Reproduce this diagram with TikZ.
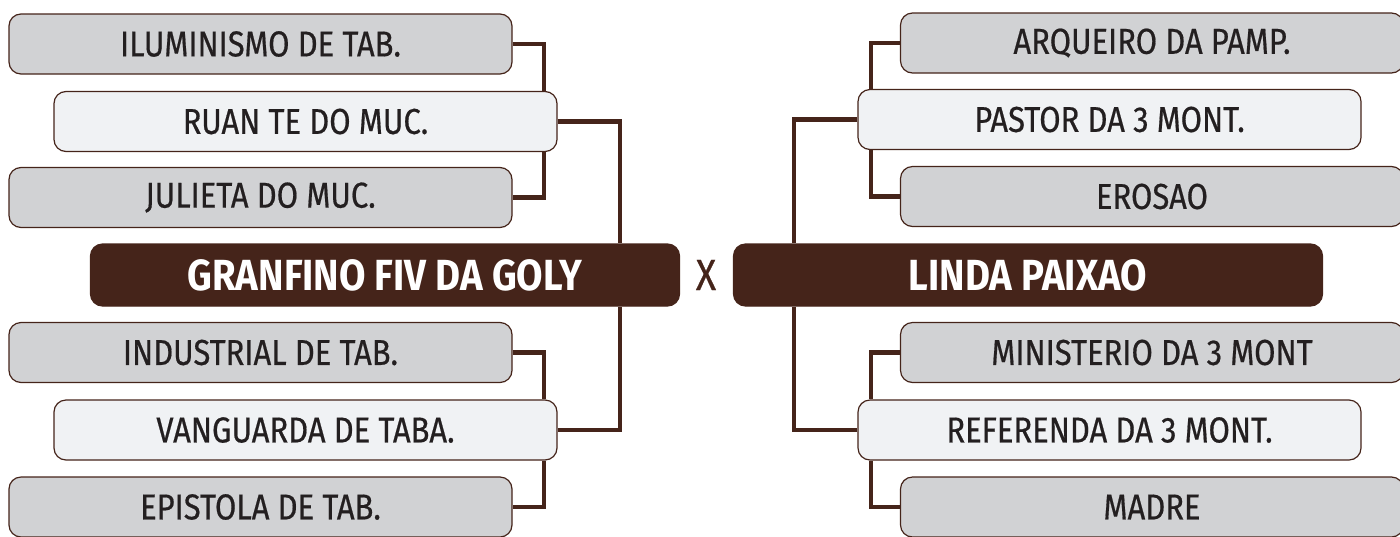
\documentclass[tikz,border=0pt]{standalone}
\usepackage{fontspec}
\setmainfont{Fira Sans}[FakeStretch=0.88]
\newfontfamily\teamfont{Fira Sans}[FakeStretch=0.86,FakeBold=0.5]
\definecolor{cafe}{HTML}{45241A}
\definecolor{cinza}{HTML}{D1D2D4}
\definecolor{gelo}{HTML}{F0F2F4}
\definecolor{tinta}{HTML}{231F20}
\begin{document}
\begin{tikzpicture}[x=0.5pt,y=-0.5pt,font=\teamfont\fontsize{18}{20}\selectfont]
    \tikzstyle{team}=[rectangle,rounded corners=6pt,draw=cafe,line width=0.6pt,minimum width=251.5pt,minimum height=30pt,inner sep=0pt,text=tinta]
    \tikzstyle{outer}=[team,fill=cinza]
    \tikzstyle{inner}=[team,fill=gelo]
    \tikzstyle{final}=[team,fill=cafe,text=white,font=\rmfamily\fontsize{21.8}{24}\selectfont\bfseries,minimum width=294.5pt,minimum height=31pt]
    \tikzstyle{link}=[draw=cafe,line width=2.3pt]

    \useasboundingbox (0,0) rectangle (1400,536);

    % left bracket
    \node(ilu)[outer] at (260.5,44){ILUMINISMO DE TAB.};
    \node(ruan)[inner] at (305.5,121.5){RUAN TE DO MUC.};
    \node(jul)[outer] at (260.5,197.5){JULIETA DO MUC.};
    \node(gran)[final] at (385,275){GRANFINO FIV DA GOLY};
    \node(ind)[outer] at (260.5,352.5){INDUSTRIAL DE TAB.};
    \node(van)[inner] at (305.5,430){VANGUARDA DE TABA.};
    \node(epi)[outer] at (260.5,507){EPISTOLA DE TAB.};

    \node(vs)[text=cafe,font=\teamfont\fontsize{21.8}{24}\selectfont] at (706,275){X};

    % right bracket
    \node(arq)[outer] at (1152,43){ARQUEIRO DA PAMP.};
    \node(pas)[inner] at (1109.5,119.5){PASTOR DA 3 MONT.};
    \node(ero)[outer] at (1152,196.5){EROSAO};
    \node(lin)[final] at (1028,275){LINDA PAIXAO};
    \node(min)[outer] at (1152,352.5){MINISTERIO DA 3 MONT};
    \node(ref)[inner] at (1109.5,430){REFERENDA DA 3 MONT.};
    \node(mad)[outer] at (1152,507){MADRE};

    \coordinate(lq) at (544,0);
    \coordinate(lf) at (620,0);
    \coordinate(rq) at (871,0);
    \coordinate(rf) at (794,0);

    \draw[link] (ilu.east) -| (ruan.north -| lq);
    \draw[link] (ruan.south -| lq) |- (jul.east);
    \draw[link] (ruan.east) -| (gran.north -| lf);
    \draw[link] (ind.east) -| (van.north -| lq);
    \draw[link] (van.south -| lq) |- (epi.east);
    \draw[link] (van.east) -| (gran.south -| lf);

    \draw[link] (arq.west) -| (pas.north -| rq);
    \draw[link] (pas.south -| rq) |- (ero.west);
    \draw[link] (pas.west) -| (lin.north -| rf);
    \draw[link] (min.west) -| (ref.north -| rq);
    \draw[link] (ref.south -| rq) |- (mad.west);
    \draw[link] (ref.west) -| (lin.south -| rf);
\end{tikzpicture}
\end{document}
